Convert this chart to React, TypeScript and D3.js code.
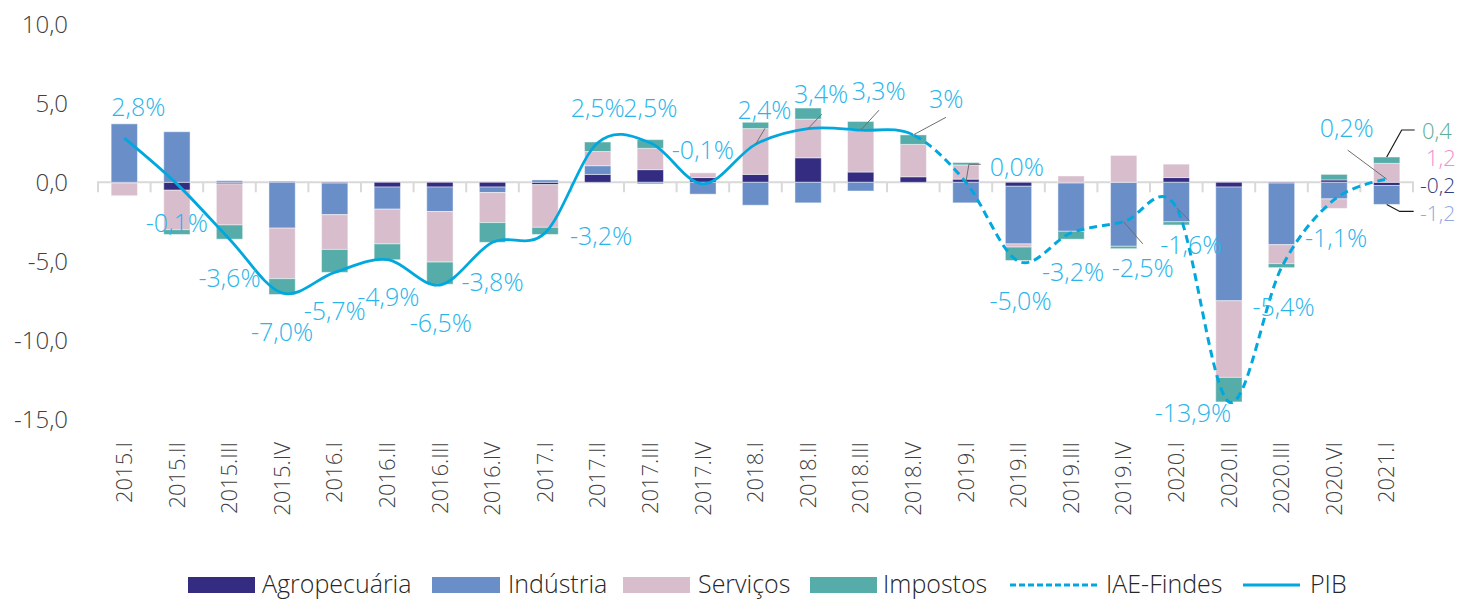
import React from "react";
import * as d3 from "d3";

const categories = ["2015.I","2015.II","2015.III","2015.IV","2016.I","2016.II","2016.III","2016.IV","2017.I","2017.II","2017.III","2017.IV","2018.I","2018.II","2018.III","2018.IV","2019.I","2019.II","2019.III","2019.IV","2020.I","2020.II","2020.III","2020.VI","2021.I"];
const agro =      [-0.05,-0.5,-0.1, 0.05,-0.05,-0.3,-0.3,-0.3,-0.15, 0.5, 0.8, 0.3, 0.5, 1.55, 0.65, 0.35, 0.2,-0.25,-0.05, 0.0, 0.3,-0.3,-0.05, 0.15,-0.2];
const industria = [ 3.7, 3.2, 0.1,-2.9,-2.0,-1.4,-1.55,-0.35, 0.15, 0.55,-0.1,-0.75,-1.45,-1.3,-0.55, 0.0,-1.3,-3.65,-3.05,-4.05,-2.5,-7.2,-3.9,-1.05,-1.2];
const servicos =  [-0.8,-2.5,-2.6,-3.2,-2.2,-2.2,-3.2,-1.9,-2.7, 0.9, 1.35, 0.3, 2.9, 2.45, 2.65, 2.05, 0.9,-0.2, 0.4, 1.7, 0.85,-4.85,-1.2,-0.6, 1.2];
const impostos =  [ 0.0,-0.3,-0.9,-1.0,-1.45,-1.0,-1.4,-1.25,-0.45, 0.6, 0.55, 0.0, 0.4, 0.7, 0.55, 0.6, 0.15,-0.85,-0.5,-0.15,-0.2,-1.55,-0.25, 0.35, 0.4];

// PIB: 2015.I – 2018.IV ; IAE-Findes: 2018.IV – 2021.I
const pib = [2.8,-0.1,-3.6,-7.0,-5.7,-4.9,-6.5,-3.8,-3.2,2.5,2.5,-0.1,2.4,3.4,3.3,3.0];
const iae = [3.0,0.0,-5.0,-3.2,-2.5,-1.6,-13.9,-5.4,-1.1,0.2];
const lineLabels = ["2,8%","-0,1%","-3,6%","-7,0%","-5,7%","-4,9%","-6,5%","-3,8%","-3,2%","2,5%","2,5%","-0,1%","2,4%","3,4%","3,3%","3%","0,0%","-5,0%","-3,2%","-2,5%","-1,6%","-13,9%","-5,4%","-1,1%","0,2%"];

const yTicks = [10, 5, 0, -5, -10, -15];
const seriesNames = ["Agropecuária", "Indústria", "Serviços", "Impostos"];
const seriesColors = ["#332C80", "#6A8FC8", "#D8BECD", "#56ACA8"];
const lastBreakdownLabels = ["0,4", "1,2", "-0,2", "-1,2"];

// layout (label offsets relative to the line point)
const labelOffsets: [number, number][] = [
  [14,-31],[0,39],[0,39],[0,39],[0,39],[1,38],[1,38],[0,40],[56,3],[0,-35],[0,-35],[0,-34],
  [9,-34],[13,-34],[18,-39],[33,-36],[51,-15],[2,40],[2,39],[19,46],[15,38],[-36,11],[2,40],[2,39],[-40,-51]
];
const leaderLines: { i: number; pts: [number, number][] }[] = [
  { i: 12, pts: [[0,0],[9.5,-16]] },
  { i: 13, pts: [[0,0],[13.6,-14.3]] },
  { i: 14, pts: [[0,0],[18.3,-20]] },
  { i: 15, pts: [[0,0],[32.7,-17.6]] },
  { i: 16, pts: [[0,0],[3,-18],[14.8,-18]] },
  { i: 19, pts: [[0,0],[19,22]] },
  { i: 20, pts: [[0,0],[13,13]] },
  { i: 24, pts: [[0,0],[-39,-29]] },
];

const W = 1463, H = 601;
const FONT = "'Open Sans', 'Noto Sans', sans-serif";
const LABEL_COLOR = "#29B5EB";
const LINE_COLOR = "#00A8DE";

export default function App() {
  const x = d3.scaleBand<string>().domain(categories).range([98, 1413]).padding(0);
  const y = d3.scaleLinear().domain([-15, 10]).range([419.3, 24.3]);
  const bw = x.bandwidth();
  const barW = bw * 0.5;
  const cx = (i: number) => (x(categories[i]) as number) + bw / 2;

  const seriesVals = [agro, industria, servicos, impostos];
  const rects: JSX.Element[] = [];
  categories.forEach((c, i) => {
    let pos = 0, neg = 0;
    seriesVals.forEach((arr, s) => {
      const v = arr[i];
      if (v === 0) return;
      let y0, y1;
      if (v > 0) { y0 = pos; y1 = pos + v; pos = y1; }
      else { y0 = neg; y1 = neg + v; neg = y1; }
      const top = y(Math.max(y0, y1));
      const bot = y(Math.min(y0, y1));
      rects.push(
        <rect key={`${i}-${s}`} x={cx(i) - barW / 2} y={top} width={barW} height={Math.max(0.8, bot - top)}
          fill={seriesColors[s]} stroke="#ffffff" strokeOpacity={0.45} strokeWidth={1} />
      );
    });
  });

  const combined = pib.concat(iae.slice(1));
  const lineGen = d3.line<number>().x((_, i) => cx(i)).y((d) => y(d)).curve(d3.curveCardinal.tension(0));
  const pathD = lineGen(combined) as string;
  const splitX = cx(pib.length - 1);

  const legendY = 584;
  const legendItems = [
    { type: "rect", color: seriesColors[0], x: 188, w: 67, label: seriesNames[0], tx: 262 },
    { type: "rect", color: seriesColors[1], x: 432, w: 68, label: seriesNames[1], tx: 508 },
    { type: "rect", color: seriesColors[2], x: 623, w: 67, label: seriesNames[2], tx: 698 },
    { type: "rect", color: seriesColors[3], x: 810, w: 67, label: seriesNames[3], tx: 883 },
    { type: "dash", color: LINE_COLOR, x: 1010, w: 88, label: "IAE-Findes", tx: 1106 },
    { type: "line", color: LINE_COLOR, x: 1243, w: 57, label: "PIB", tx: 1310 },
  ];

  const last = categories.length - 1;
  const lx = cx(last);
  const impTop = y(Math.max(0, agro[last]) + Math.max(0, industria[last]) + servicos[last] + impostos[last]);
  const indBot = y(agro[last] + industria[last]);

  return (
    <svg width={W} height={H} style={{ display: "block", position: "absolute", left: 0, top: 0 }} fontFamily={FONT}>
      <defs>
        <clipPath id="clipSolid"><rect x={0} y={0} width={splitX} height={H} /></clipPath>
        <clipPath id="clipDash"><rect x={splitX} y={0} width={W - splitX} height={H} /></clipPath>
      </defs>
      {/* y axis labels */}
      {yTicks.map((t) => (
        <text key={t} x={68} y={y(t)} dy="0.35em" textAnchor="end" fontSize={24} fontWeight={300} fill="#404040">
          {d3.format(".1f")(t).replace(".", ",").replace("−", "-")}
        </text>
      ))}
      {/* zero axis */}
      <line x1={97} x2={1414} y1={y(0)} y2={y(0)} stroke="#D9D9D9" strokeWidth={2} />
      {categories.map((c, i) => (
        <line key={c} x1={x(c) as number} x2={x(c) as number} y1={y(0)} y2={y(0) + 10} stroke="#D9D9D9" strokeWidth={2} />
      ))}
      <line x1={1413} x2={1413} y1={y(0)} y2={y(0) + 10} stroke="#D9D9D9" strokeWidth={2} />
      {rects}
      {/* lines */}
      <path d={pathD} fill="none" stroke={LINE_COLOR} strokeWidth={2.8} clipPath="url(#clipSolid)" />
      <path d={pathD} fill="none" stroke={LINE_COLOR} strokeWidth={3} strokeDasharray="8,5" clipPath="url(#clipDash)" />
      {/* leader lines */}
      {leaderLines.map((l) => {
        const px = cx(l.i), py = y(combined[l.i]);
        return (
          <polyline key={l.i} points={l.pts.map(([a, b]) => `${px + a},${py + b}`).join(" ")} fill="none" stroke="#6E6E6E" strokeWidth={1} />
        );
      })}
      {/* line labels */}
      {lineLabels.map((t, i) => (
        <text key={i} x={cx(i) + labelOffsets[i][0]} y={y(combined[i]) + labelOffsets[i][1]} dy="0.35em" textAnchor="middle"
          fontSize={25} fontWeight={300} fill={LABEL_COLOR}>{t}</text>
      ))}
      {/* last breakdown */}
      <polyline points={`${lx},${impTop} ${lx + 15},${impTop - 27} ${lx + 28},${impTop - 27}`} fill="none" stroke="#1a1a1a" strokeWidth={1.2} />
      <polyline points={`${lx},${indBot} ${lx + 13},${indBot + 7} ${lx + 27},${indBot + 7}`} fill="none" stroke="#1a1a1a" strokeWidth={1.2} />
      <text x={1422} y={131} dy="0.35em" fontSize={22} fontWeight={300} fill="#5BAE98">{lastBreakdownLabels[0]}</text>
      <text x={1426} y={158} dy="0.35em" fontSize={22} fontWeight={300} fill="#F08FCF">{lastBreakdownLabels[1]}</text>
      <text x={1420} y={186} dy="0.35em" fontSize={21} fontWeight={300} fill="#2E3F7F">{lastBreakdownLabels[2]}</text>
      <text x={1420} y={214} dy="0.35em" fontSize={21} fontWeight={300} fill="#8FA9DC">{lastBreakdownLabels[3]}</text>
      {/* x labels */}
      {categories.map((c, i) => (
        <text key={c} transform={`translate(${cx(i)},442) rotate(-90)`} dy="0.35em" textAnchor="end" fontSize={22} fontWeight={300} fill="#404040">{c}</text>
      ))}
      {/* legend */}
      {legendItems.map((it) => (
        <g key={it.label}>
          {it.type === "rect" && <rect x={it.x} y={legendY - 7} width={it.w} height={16} fill={it.color} />}
          {it.type === "dash" && <line x1={it.x} x2={it.x + it.w} y1={legendY + 1} y2={legendY + 1} stroke={it.color} strokeWidth={3} strokeDasharray="6,3" />}
          {it.type === "line" && <line x1={it.x} x2={it.x + it.w} y1={legendY + 1} y2={legendY + 1} stroke={it.color} strokeWidth={3} />}
          <text x={it.tx} y={legendY} dy="0.35em" fontSize={25} fontWeight={300} fill="#262626">{it.label}</text>
        </g>
      ))}
    </svg>
  );
}
